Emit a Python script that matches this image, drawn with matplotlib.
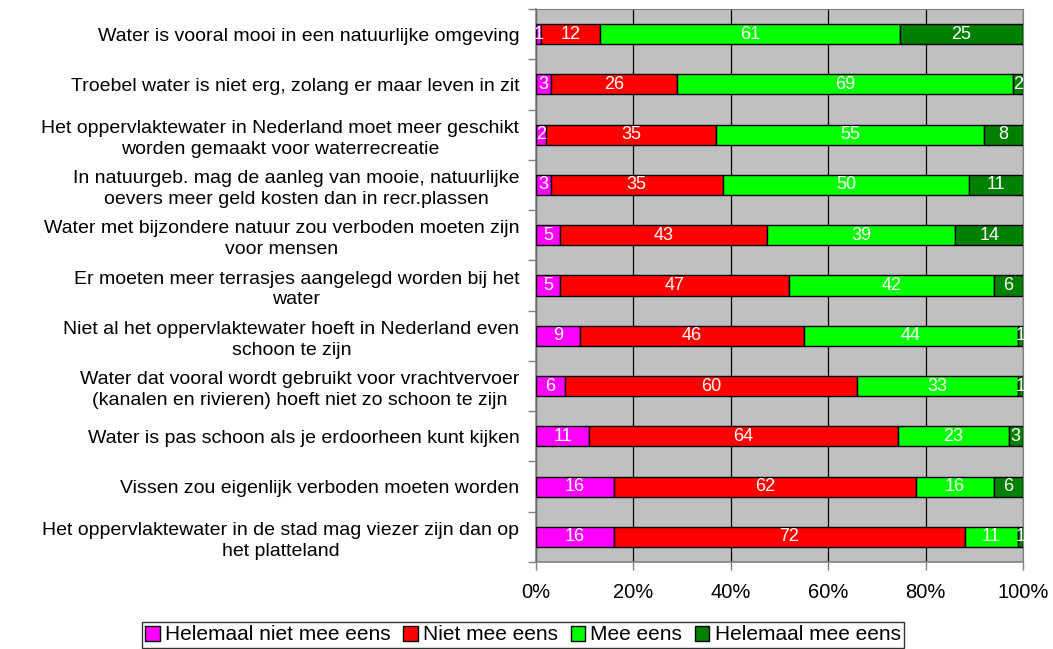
import numpy as np
import matplotlib
matplotlib.use("Agg")
import matplotlib.pyplot as plt
from matplotlib.ticker import FixedLocator, PercentFormatter

plt.rcParams['font.family'] = ['Liberation Sans', 'DejaVu Sans']

# stellingen, van boven naar beneden
categories = [
    "Water is vooral mooi in een natuurlijke omgeving",
    "Troebel water is niet erg, zolang er maar leven in zit",
    "Het oppervlaktewater in Nederland moet meer geschikt\nworden gemaakt voor waterrecreatie",
    "In natuurgeb. mag de aanleg van mooie, natuurlijke\noevers meer geld kosten dan in recr.plassen",
    "Water met bijzondere natuur zou verboden moeten zijn\nvoor mensen",
    "Er moeten meer terrasjes aangelegd worden bij het\nwater",
    "Niet al het oppervlaktewater hoeft in Nederland even\nschoon te zijn",
    "Water dat vooral wordt gebruikt voor vrachtvervoer\n(kanalen en rivieren) hoeft niet zo schoon te zijn",
    "Water is pas schoon als je erdoorheen kunt kijken",
    "Vissen zou eigenlijk verboden moeten worden",
    "Het oppervlaktewater in de stad mag viezer zijn dan op\nhet platteland",
]

series_names = ["Helemaal niet mee eens", "Niet mee eens", "Mee eens", "Helemaal mee eens"]
helemaal_niet = [1, 3, 2, 3, 5, 5, 9, 6, 11, 16, 16]
niet = [12, 26, 35, 35, 43, 47, 46, 60, 64, 62, 72]
mee = [61, 69, 55, 50, 39, 42, 44, 33, 23, 16, 11]
helemaal_mee = [25, 2, 8, 11, 14, 6, 1, 1, 3, 6, 1]

colors = ["#FF00FF", "#FF0000", "#00FF00", "#008000"]

data = np.array([helemaal_niet, niet, mee, helemaal_mee], dtype=float)
totals = data.sum(axis=0)
shares = data / totals

fig = plt.figure(figsize=(10.53, 6.49), dpi=100)
ax = fig.add_axes([536 / 1053, 1 - 562 / 649, 487 / 1053, 553 / 649])
ax.set_facecolor("#C0C0C0")

y = np.arange(len(categories))
left = np.zeros(len(categories))
for i in range(4):
    bars = ax.barh(y, shares[i], left=left, height=0.4, color=colors[i],
                   edgecolor="black", linewidth=1, label=series_names[i], zorder=3)
    for b, v in zip(bars, data[i]):
        ax.text(b.get_x() + b.get_width() / 2, b.get_y() + b.get_height() / 2,
                "%d" % v, color="white", ha="center", va="center",
                fontsize=13, zorder=4)
    left += shares[i]

ax.set_xlim(0, 1)
ax.set_ylim(len(categories) - 0.5, -0.5)
ax.xaxis.set_major_locator(FixedLocator([0, 0.2, 0.4, 0.6, 0.8, 1.0]))
ax.xaxis.set_major_formatter(PercentFormatter(1.0, decimals=0))
ax.grid(axis="x", color="black", linewidth=0.9, zorder=1)

ax.set_yticks(y)
ax.set_yticklabels(categories, fontsize=14, linespacing=1.3, multialignment="center")
ax.set_yticks(np.arange(len(categories) + 1) - 0.5, minor=True)
ax.tick_params(axis="y", which="major", length=0, pad=12)
ax.tick_params(axis="y", which="minor", length=6, width=1, color="#808080")
ax.tick_params(axis="x", length=6, width=1, color="#808080", labelsize=14.5, pad=9)

for s in ["top", "right"]:
    ax.spines[s].set_color("#808080")
for s in ["left", "bottom"]:
    ax.spines[s].set_color("#808080")
    ax.spines[s].set_linewidth(1.2)

leg = fig.legend(loc="center", bbox_to_anchor=(523 / 1053, 1 - 635 / 649), ncol=4,
                 frameon=True, fancybox=False, edgecolor="black", fontsize=15,
                 handlelength=0.7, handleheight=0.7, handletextpad=0.25,
                 columnspacing=0.6, borderpad=0.15)
leg.get_frame().set_linewidth(1)

fig.savefig("out.png", dpi=100)
